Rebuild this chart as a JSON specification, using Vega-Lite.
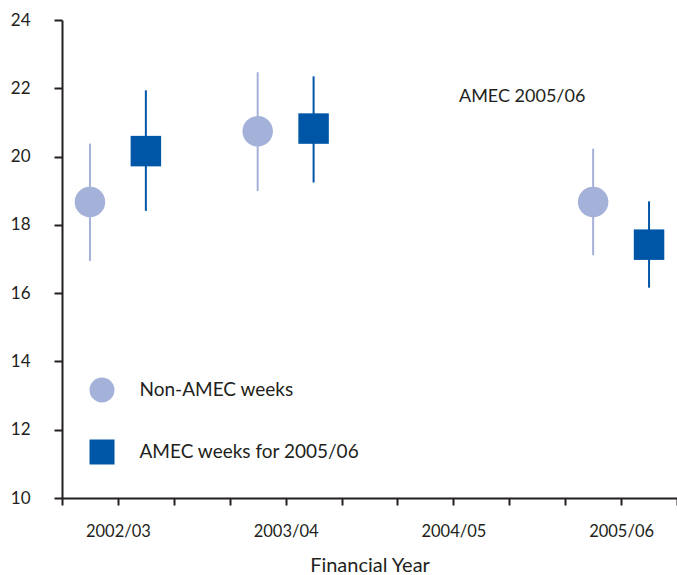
{
  "$schema": "https://vega.github.io/schema/vega-lite/v6.json",
  "autosize": "none",
  "width": 615,
  "height": 478,
  "padding": {"left": 62, "top": 20, "right": 0, "bottom": 77},
  "config": {
    "view": {"stroke": null},
    "font": "Lato",
    "axis": {"grid": false, "labelFont": "Lato", "titleFont": "Lato", "labelColor": "#231f20", "titleColor": "#231f20", "domainColor": "#231f20", "tickColor": "#231f20", "domainWidth": 2, "tickWidth": 2}
  },
  "datasets": {
    "bars": [
      {"year": "2002/03", "group": "Non-AMEC weeks", "pos": 0.5, "mid": 18.67, "low": 16.94, "high": 20.38},
      {"year": "2002/03", "group": "AMEC weeks for 2005/06", "pos": 1.5, "mid": 20.16, "low": 18.41, "high": 21.94},
      {"year": "2003/04", "group": "Non-AMEC weeks", "pos": 3.5, "mid": 20.74, "low": 18.99, "high": 22.47},
      {"year": "2003/04", "group": "AMEC weeks for 2005/06", "pos": 4.5, "mid": 20.82, "low": 19.24, "high": 22.35},
      {"year": "2005/06", "group": "Non-AMEC weeks", "pos": 9.5, "mid": 18.67, "low": 17.11, "high": 20.23},
      {"year": "2005/06", "group": "AMEC weeks for 2005/06", "pos": 10.5, "mid": 17.42, "low": 16.16, "high": 18.69}
    ],
    "notes": [
      {"label": "AMEC 2005/06", "pos": 7.1, "val": 21.75}
    ]
  },
  "layer": [
    {
      "data": {"name": "bars"},
      "mark": {"type": "rule", "strokeWidth": 2},
      "encoding": {
        "x": {"field": "pos", "type": "quantitative", "scale": {"domain": [0, 11], "nice": false, "zero": false},
          "axis": {"values": [0,1,2,3,4,5,6,7,8,9,10,11], "labelExpr": "datum.value == 1 ? '2002/03' : datum.value == 4 ? '2003/04' : datum.value == 7 ? '2004/05' : datum.value == 10 ? '2005/06' : ''", "labelOverlap": false, "labelFlush": false, "tickSize": 7, "labelFontSize": 16.5, "labelPadding": 18, "title": "Financial Year", "titleFontSize": 20, "titleFontWeight": "normal", "titlePadding": 16}},
        "y": {"field": "low", "type": "quantitative", "scale": {"domain": [10, 24], "nice": false, "zero": false},
          "axis": {"values": [10,12,14,16,18,20,22,24], "title": null, "tickSize": 8, "labelFontSize": 17, "labelPadding": 24}},
        "y2": {"field": "high"},
        "color": {"field": "group", "type": "nominal", "scale": {"domain": ["Non-AMEC weeks", "AMEC weeks for 2005/06"], "range": ["#a4b1d8", "#0056a6"]}}
      }
    },
    {
      "data": {"name": "bars"},
      "mark": {"type": "point", "filled": true, "opacity": 1, "size": 930},
      "encoding": {
        "x": {"field": "pos", "type": "quantitative"},
        "y": {"field": "mid", "type": "quantitative"},
        "color": {"field": "group", "type": "nominal",
          "legend": {"orient": "none", "legendX": 27.5, "legendY": 357.5, "title": null, "padding": 0, "labelFont": "Lato", "labelFontSize": 19, "labelColor": "#231f20", "labelLimit": 400, "symbolSize": 625, "symbolStrokeWidth": 0, "symbolOpacity": 1, "rowPadding": 37, "labelOffset": 25}},
        "shape": {"field": "group", "type": "nominal", "scale": {"domain": ["Non-AMEC weeks", "AMEC weeks for 2005/06"], "range": ["circle", "square"]},
          "legend": {"orient": "none", "legendX": 27.5, "legendY": 357.5, "title": null, "padding": 0, "labelFont": "Lato", "labelFontSize": 19, "labelColor": "#231f20", "labelLimit": 400, "symbolSize": 625, "symbolStrokeWidth": 0, "symbolOpacity": 1, "rowPadding": 37, "labelOffset": 25}}
      }
    },
    {
      "data": {"name": "notes"},
      "mark": {"type": "text", "align": "left", "baseline": "middle", "fontSize": 18, "font": "Lato", "color": "#231f20"},
      "encoding": {
        "x": {"field": "pos", "type": "quantitative"},
        "y": {"field": "val", "type": "quantitative"},
        "text": {"field": "label"}
      }
    }
  ]
}
